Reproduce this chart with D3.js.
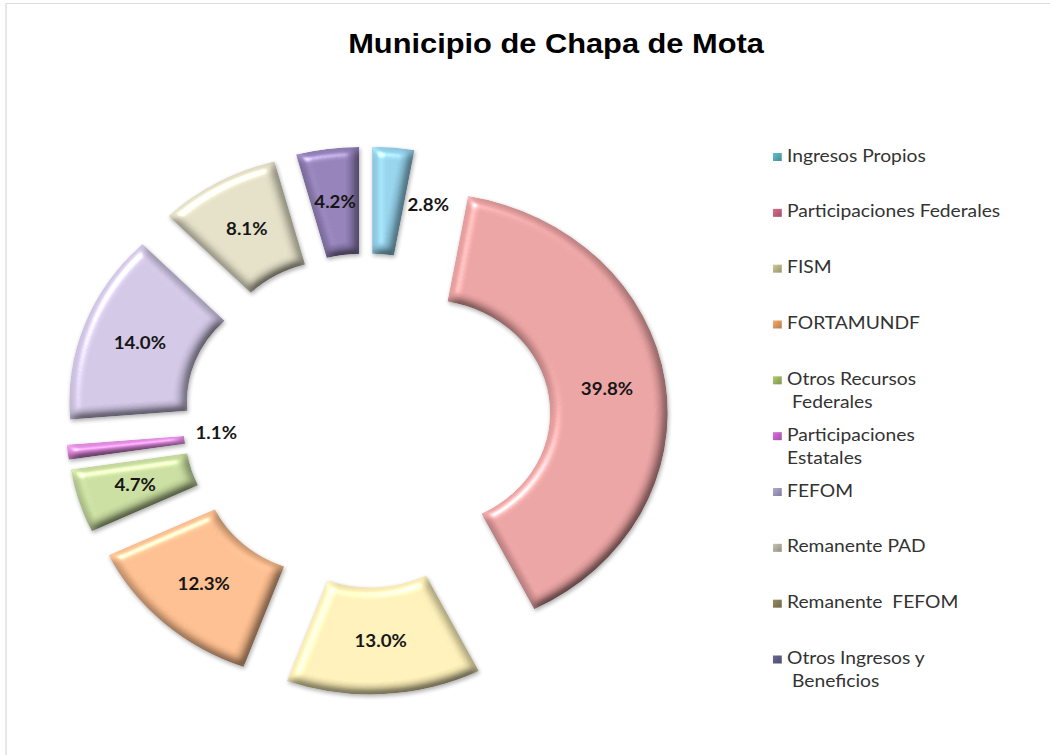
<!DOCTYPE html>
<html>
<head>
<meta charset="utf-8">
<script src="https://cdn.jsdelivr.net/npm/d3@7"></script>
<style>
  html, body { margin: 0; padding: 0; background: #fff; }
  svg { display: block; }
  text { white-space: pre; }
</style>
</head>
<body>
<svg id="chart" width="1050" height="755"></svg>
<script>
// ---------- data ----------
const title = "Municipio de Chapa de Mota";
const categories = [
  "Ingresos Propios", "Participaciones Federales", "FISM", "FORTAMUNDF",
  "Otros Recursos Federales", "Participaciones Estatales", "FEFOM",
  "Remanente PAD", "Remanente  FEFOM", "Otros Ingresos y Beneficios"
];
const values = [2.8, 39.8, 13.0, 12.3, 4.7, 1.1, 14.0, 8.1, 0.0, 4.2];
const legendLines = [
  ["Ingresos Propios"], ["Participaciones Federales"], ["FISM"], ["FORTAMUNDF"],
  ["Otros Recursos", " Federales"], ["Participaciones", "Estatales"], ["FEFOM"],
  ["Remanente PAD"], ["Remanente  FEFOM"], ["Otros Ingresos y", " Beneficios"]
];
const sliceColors = [
  "#8FCBE3", "#E29C9C", "#F5E8B2", "#F4B789", "#C2D69A",
  "#DC88DA", "#CAC0DE", "#DCD8C0", "#A39C72", "#8C7AB0"
];
const legendColors = [
  "#4E9CA6", "#B05873", "#A8A479", "#C98A58", "#8EA557",
  "#B258B5", "#8F89AA", "#A19E90", "#7A7350", "#55557A"
];

// ---------- layout ----------
const W = 1050, H = 755;
const stretchX = 1.1;               // the original is horizontally stretched
const cx = 333.6, cy = 420.5;
const rOuter = 220, rInner = 113, explode = 54;

const svg = d3.select("#chart");
const defs = svg.append("defs");

// bevel / emboss filter for slices
const f = defs.append("filter").attr("id", "bevel")
  .attr("x", "-20%").attr("y", "-20%").attr("width", "140%").attr("height", "140%")
  .attr("color-interpolation-filters", "sRGB");
f.append("feGaussianBlur").attr("in", "SourceAlpha").attr("stdDeviation", 5).attr("result", "blur");
const dl = f.append("feDiffuseLighting").attr("in", "blur").attr("surfaceScale", 5)
  .attr("diffuseConstant", 1.10).attr("lighting-color", "#fff").attr("result", "diff");
dl.append("feDistantLight").attr("azimuth", 235).attr("elevation", 65);
f.append("feComposite").attr("in", "SourceGraphic").attr("in2", "diff")
  .attr("operator", "arithmetic").attr("k1", 1).attr("k2", 0).attr("k3", 0).attr("k4", 0)
  .attr("result", "shaded");
const sl = f.append("feSpecularLighting").attr("in", "blur").attr("surfaceScale", 6)
  .attr("specularConstant", 0.8).attr("specularExponent", 30).attr("lighting-color", "#fff")
  .attr("result", "spec");
sl.append("feDistantLight").attr("azimuth", 235).attr("elevation", 45);
f.append("feComposite").attr("in", "spec").attr("in2", "SourceAlpha").attr("operator", "in").attr("result", "specIn");
f.append("feComposite").attr("in", "shaded").attr("in2", "specIn")
  .attr("operator", "arithmetic").attr("k1", 0).attr("k2", 1).attr("k3", 0.5).attr("k4", 0)
  .attr("result", "lit");
f.append("feComposite").attr("in", "lit").attr("in2", "SourceAlpha").attr("operator", "in").attr("result", "final");
f.append("feGaussianBlur").attr("in", "SourceAlpha").attr("stdDeviation", 2).attr("result", "sb");
f.append("feOffset").attr("in", "sb").attr("dx", 1.2).attr("dy", 2).attr("result", "so");
const ct = f.append("feComponentTransfer").attr("in", "so").attr("result", "sa");
ct.append("feFuncA").attr("type", "linear").attr("slope", 0.32);
const fm = f.append("feMerge");
fm.append("feMergeNode").attr("in", "sa");
fm.append("feMergeNode").attr("in", "final");

// legend marker gradient
legendColors.forEach((c, i) => {
  const g = defs.append("linearGradient").attr("id", "lg" + i)
    .attr("x1", 0).attr("y1", 0).attr("x2", 1).attr("y2", 1);
  g.append("stop").attr("offset", "0%").attr("stop-color", d3.color(c).brighter(0.6));
  g.append("stop").attr("offset", "100%").attr("stop-color", d3.color(c).darker(0.3));
});

const root = svg.append("g").attr("transform", `scale(${stretchX},1)`);

// chart border (left/top visible)
root.append("path")
  .attr("d", `M5.5,${H} L5.5,3.5 L${W / stretchX},3.5`)
  .attr("fill", "none").attr("stroke", "#dcdcdc").attr("stroke-width", 1.2);

// title
root.append("text")
  .attr("x", 505.5).attr("y", 53)
  .attr("text-anchor", "middle")
  .attr("font-family", "'Liberation Sans', Arial, sans-serif")
  .attr("font-weight", "bold").attr("font-size", 28)
  .attr("fill", "#000")
  .text(title);

// pie
const pie = d3.pie().sort(null).value(d => d.value).startAngle(0).endAngle(2 * Math.PI);
const data = categories.map((c, i) => ({ name: c, value: values[i], i }));
const arcs = pie(data).filter(d => d.value > 0);
const arc = d3.arc().innerRadius(rInner).outerRadius(rOuter);
const fmt = d3.format(".1f");

function offset(d) {
  const a = (d.startAngle + d.endAngle) / 2;
  return [Math.sin(a) * explode, -Math.cos(a) * explode];
}

const pieG = root.append("g").attr("transform", `translate(${cx},${cy})`);
pieG.selectAll("path.slice")
  .data(arcs)
  .join("path")
  .attr("class", "slice")
  .attr("transform", d => `translate(${offset(d)})`)
  .attr("d", arc)
  .attr("fill", d => sliceColors[d.data.i])
  .attr("filter", "url(#bevel)");

// labels
const rMid = (rInner + rOuter) / 2;
pieG.selectAll("text.lbl")
  .data(arcs)
  .join("text")
  .attr("class", "lbl")
  .attr("font-family", "Lato, 'Open Sans', sans-serif")
  .attr("font-weight", "bold").attr("font-size", 17)
  .attr("fill", "#161616")
  .attr("dy", "0.36em")
  .each(function (d) {
    const [ox, oy] = offset(d);
    const mid = (d.startAngle + d.endAngle) / 2;
    const sel = d3.select(this);
    if (d.value >= 3) {
      const [x, y] = arc.centroid(d);
      sel.attr("x", x + ox).attr("y", y + oy).attr("text-anchor", "middle");
    } else if (mid < Math.PI) {
      // small slice on the right half: label just beyond its end edge
      const a = d.endAngle;
      sel.attr("x", ox + Math.sin(a) * rMid + 3).attr("y", oy - Math.cos(a) * rMid + 2)
        .attr("text-anchor", "start");
    } else {
      // small slice on the left half: label just past its inner end
      sel.attr("x", ox + Math.sin(mid) * rInner + 10).attr("y", oy - Math.cos(mid) * rInner - 7)
        .attr("text-anchor", "start");
    }
  })
  .text(d => fmt(d.value) + "%");

// legend
const ly = d3.scaleLinear().domain([0, categories.length - 1]).range([161.5, 664]);
const legend = root.append("g");
const items = legend.selectAll("g.item")
  .data(categories.map((c, i) => i))
  .join("g").attr("class", "item")
  .attr("transform", i => `translate(0,${ly(i)})`);
items.append("rect")
  .attr("x", 702.7).attr("y", -8.5).attr("width", 8).attr("height", 8)
  .attr("fill", i => `url(#lg${i})`);
items.each(function (i) {
  const t = d3.select(this).append("text")
    .attr("font-family", "Lato, 'Open Sans', sans-serif")
    .attr("font-size", 17.5).attr("fill", "#333");
  legendLines[i].forEach((line, k) => {
    t.append("tspan").attr("x", 715.5).attr("y", k * 23).text(line);
  });
});
</script>
</body>
</html>
